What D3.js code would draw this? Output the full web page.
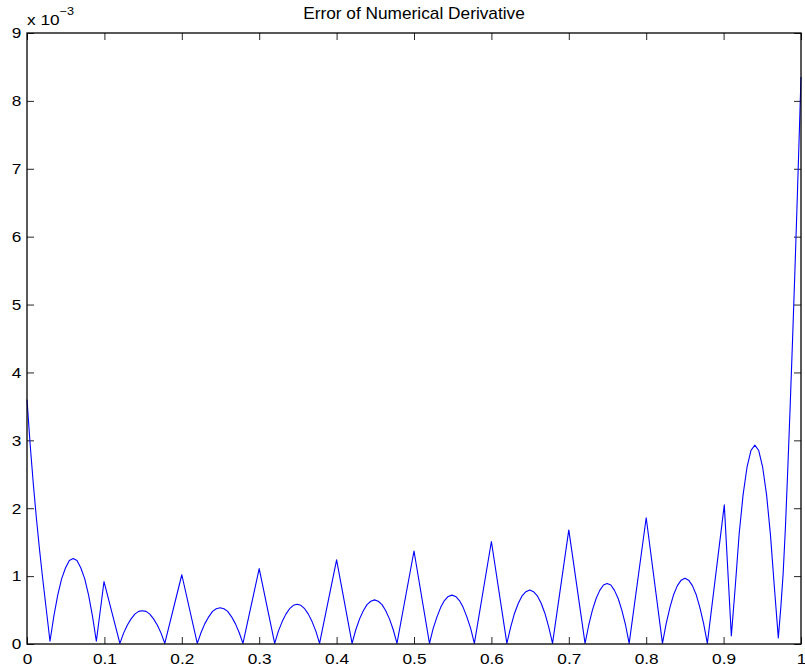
<!DOCTYPE html>
<html>
<head>
<meta charset="utf-8">
<script src="https://cdn.jsdelivr.net/npm/d3@7"></script>
<style>
body { margin: 0; background: #fff; }
svg { font-family: "Liberation Sans", Arial, Helvetica, sans-serif; }
.axis text { font-size: 15px; fill: #000; }
.axis line { stroke: #262626; }
.axis path { display: none; }
</style>
</head>
<body>
<div id="chart"></div>
<script>
'use strict';

var title = 'Error of Numerical Derivative';

// x positions
var xValues = [
	0, 0.004, 0.008, 0.012, 0.016, 0.020, 0.025,
	0.0297, 0.0347, 0.0397, 0.0447, 0.0497, 0.0547, 0.0597, 0.0646, 0.0696, 0.0746, 0.0796, 0.0846, 0.0896,
	0.0995,
	0.120, 0.1248, 0.1297, 0.1345, 0.1393, 0.1442, 0.149, 0.1538, 0.1587, 0.1635, 0.1683, 0.1732, 0.178,
	0.2,
	0.220, 0.2249, 0.2298, 0.2348, 0.2397, 0.2446, 0.2495, 0.2544, 0.2593, 0.2643, 0.2692, 0.2741, 0.279,
	0.3,
	0.320, 0.3248, 0.3297, 0.3345, 0.3393, 0.3442, 0.349, 0.3538, 0.3587, 0.3635, 0.3683, 0.3732, 0.378,
	0.4,
	0.420, 0.4248, 0.4297, 0.4345, 0.4393, 0.4442, 0.449, 0.4538, 0.4587, 0.4635, 0.4683, 0.4732, 0.478,
	0.5,
	0.520, 0.5248, 0.5297, 0.5345, 0.5393, 0.5442, 0.549, 0.5538, 0.5587, 0.5635, 0.5683, 0.5732, 0.578,
	0.6,
	0.620, 0.6249, 0.6298, 0.6348, 0.6397, 0.6446, 0.6495, 0.6544, 0.6593, 0.6643, 0.6692, 0.6741, 0.679,
	0.7,
	0.721, 0.7258, 0.7305, 0.7353, 0.740, 0.7448, 0.7495, 0.7543, 0.759, 0.7638, 0.7685, 0.7733, 0.778,
	0.8,
	0.821, 0.8258, 0.8307, 0.8355, 0.8403, 0.8452, 0.85, 0.8548, 0.8597, 0.8645, 0.8693, 0.8742, 0.879,
	0.9009,
	0.910, 0.9151, 0.9201, 0.9252, 0.9302, 0.9353, 0.9404, 0.9454, 0.9505, 0.9555, 0.9606, 0.9657, 0.9707,
	0.974, 0.977, 0.980, 0.983, 0.986, 0.989, 0.992, 0.995, 0.998, 1.0
];

// error, in units of 1e-3
var errMilli = [
	3.6, 2.95, 2.38, 1.87, 1.41, 0.99, 0.5,
	0.04, 0.41, 0.72, 0.96, 1.12, 1.23, 1.26, 1.23, 1.12, 0.96, 0.72, 0.41, 0.04,
	0.92,
	0.01, 0.16, 0.28, 0.37, 0.44, 0.48, 0.49, 0.48, 0.44, 0.37, 0.28, 0.16, 0.01,
	1.02,
	0.01, 0.17, 0.30, 0.40, 0.48, 0.52, 0.535, 0.52, 0.48, 0.40, 0.30, 0.17, 0.01,
	1.11,
	0.01, 0.19, 0.33, 0.44, 0.52, 0.57, 0.585, 0.57, 0.52, 0.44, 0.33, 0.19, 0.01,
	1.24,
	0.01, 0.21, 0.37, 0.49, 0.58, 0.63, 0.65, 0.63, 0.58, 0.49, 0.37, 0.21, 0.01,
	1.37,
	0.01, 0.23, 0.40, 0.54, 0.64, 0.70, 0.72, 0.70, 0.64, 0.54, 0.40, 0.23, 0.01,
	1.51,
	0.01, 0.25, 0.45, 0.60, 0.71, 0.77, 0.795, 0.77, 0.71, 0.60, 0.45, 0.25, 0.01,
	1.68,
	0.01, 0.28, 0.50, 0.67, 0.79, 0.87, 0.89, 0.87, 0.79, 0.67, 0.50, 0.28, 0.01,
	1.86,
	0.01, 0.30, 0.54, 0.73, 0.86, 0.94, 0.97, 0.94, 0.86, 0.73, 0.54, 0.30, 0.01,
	2.05,
	0.12, 0.85, 1.62, 2.2, 2.6, 2.85, 2.93, 2.85, 2.6, 2.2, 1.6, 0.82, 0.09,
	0.55, 1.05, 1.75, 2.6, 3.5, 4.45, 5.45, 6.5, 7.6, 8.35
];

var xTicks = [0, 0.1, 0.2, 0.3, 0.4, 0.5, 0.6, 0.7, 0.8, 0.9, 1];
var yTicks = [0, 1, 2, 3, 4, 5, 6, 7, 8, 9];

var W = 805, H = 670;
var margin = { left: 27, top: 33, right: 4, bottom: 26 };
var width = W - margin.left - margin.right;
var height = H - margin.top - margin.bottom;
var tick = 7;
var stretch = 'scale(1.15,1)';

var svg = d3.select('#chart').append('svg')
	.attr('width', W)
	.attr('height', H)
	;

var chart = svg.append('g')
	.attr('transform', 'translate(' + margin.left + ',' + margin.top + ')')
	;

var x = d3.scaleLinear()
	.domain([0, 1])
	.range([0, width])
	;
var y = d3.scaleLinear()
	.domain([0, 9])
	.range([height, 0])
	;

chart.append('g')
	.attr('class', 'x axis')
	.attr('transform', 'translate(0,' + height + ')')
	.call(d3.axisBottom(x)
		.tickValues(xTicks)
		.tickFormat(d3.format('~g'))
		.tickSizeInner(-tick)
		.tickSizeOuter(0)
		.tickPadding(9))
	;
chart.append('g')
	.attr('class', 'x axis top')
	.call(d3.axisTop(x)
		.tickValues(xTicks)
		.tickFormat('')
		.tickSizeInner(-tick)
		.tickSizeOuter(0))
	;
chart.append('g')
	.attr('class', 'y axis')
	.call(d3.axisLeft(y)
		.tickValues(yTicks)
		.tickFormat(d3.format('d'))
		.tickSizeInner(-tick)
		.tickSizeOuter(0)
		.tickPadding(5))
	;
chart.append('g')
	.attr('class', 'y axis right')
	.attr('transform', 'translate(' + width + ',0)')
	.call(d3.axisRight(y)
		.tickValues(yTicks)
		.tickFormat('')
		.tickSizeInner(-tick)
		.tickSizeOuter(0))
	;

// the reference text is a little wider than the plain font
chart.selectAll('.axis .tick text')
	.attr('transform', stretch)
	;

var points = xValues.map(function(v, i) { return [v, errMilli[i]]; });

var line = d3.line()
	.x(function(d) { return x(d[0]); })
	.y(function(d) { return y(d[1]); })
	;

chart.append('path')
	.datum(points)
	.attr('fill', 'none')
	.attr('stroke', '#0000ff')
	.attr('stroke-width', 1.1)
	.attr('stroke-linejoin', 'round')
	.attr('d', line)
	;

chart.append('rect')
	.attr('x', 0)
	.attr('y', 0)
	.attr('width', width)
	.attr('height', height)
	.attr('fill', 'none')
	.attr('stroke', '#000')
	.attr('stroke-width', 1.3)
	;

// exponent label
var expo = svg.append('text')
	.attr('transform', 'translate(' + margin.left + ',25) ' + stretch)
	.attr('font-size', 15)
	.text('x 10')
	;
expo.append('tspan')
	.attr('dy', -10)
	.attr('font-size', 11)
	.text('\u22123')
	;

svg.append('text')
	.attr('transform', 'translate(' + (margin.left + width / 2) + ',19) scale(1.08,1)')
	.attr('text-anchor', 'middle')
	.attr('font-size', 16)
	.text(title)
	;
</script>
</body>
</html>
